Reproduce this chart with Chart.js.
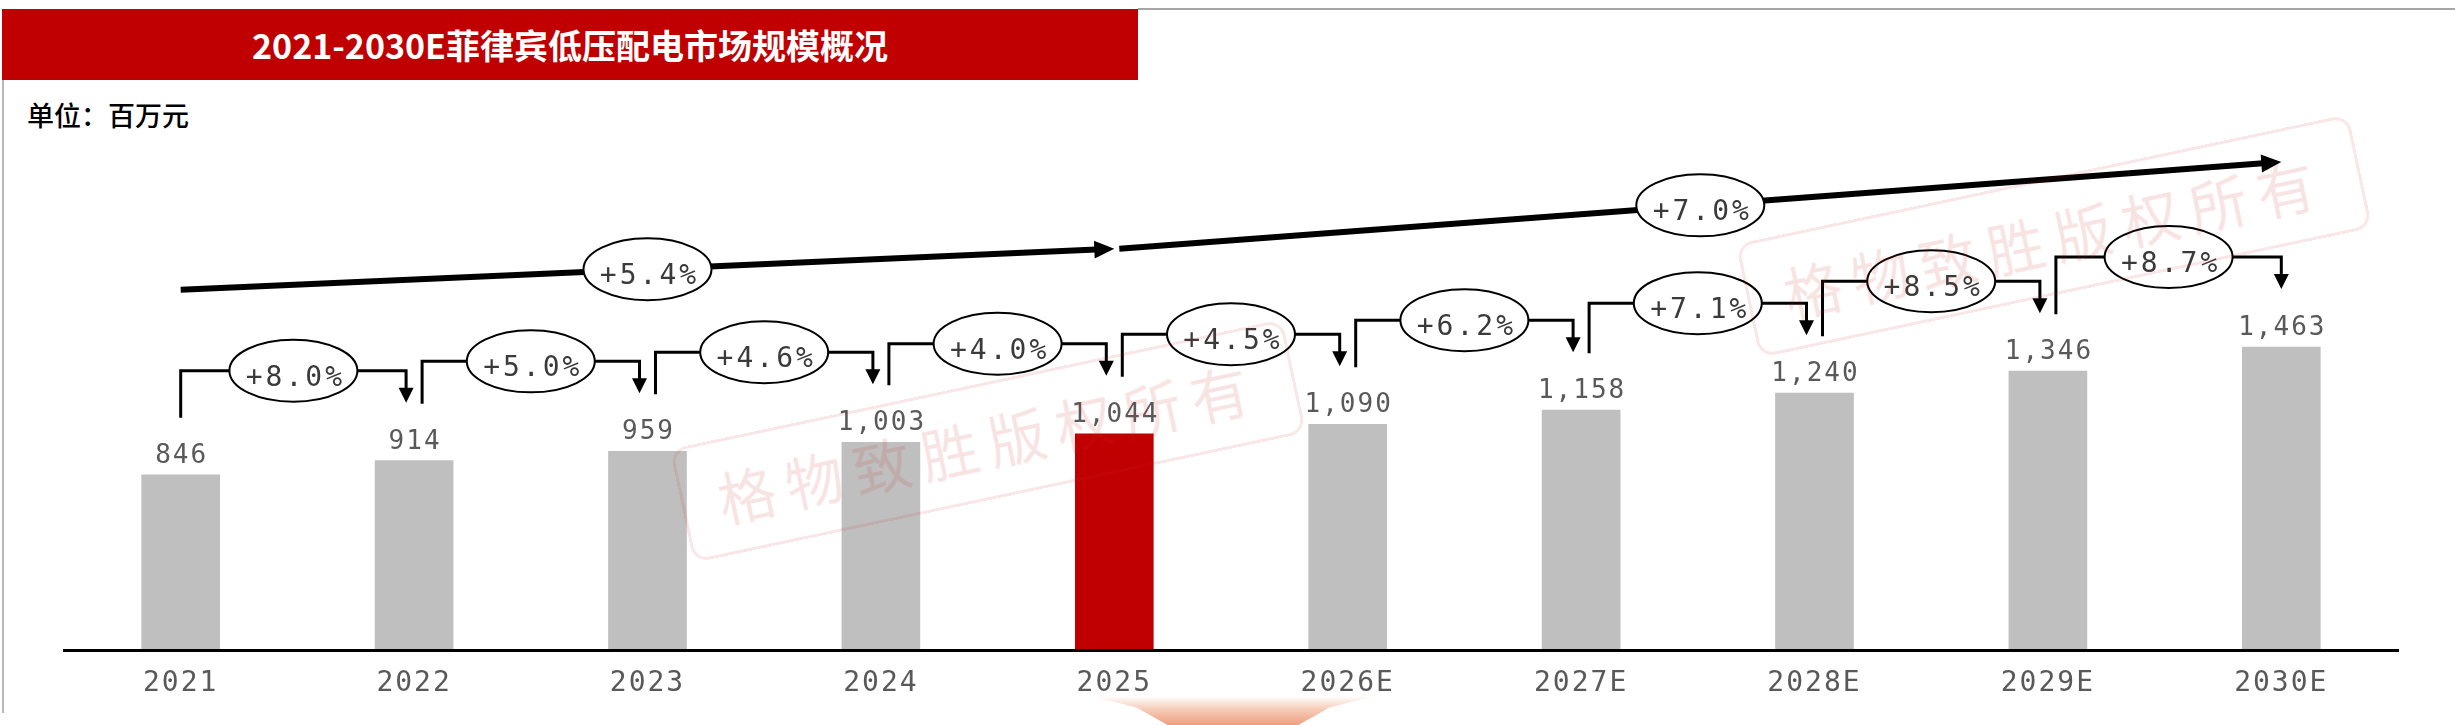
<!DOCTYPE html>
<html>
<head>
<meta charset="utf-8">
<script src="https://cdn.jsdelivr.net/npm/chart.js@4.4.1/dist/chart.umd.min.js"></script>
<style>
  html, body { margin: 0; padding: 0; background: #fff; }
  body { width: 2455px; height: 725px; position: relative; overflow: hidden; font-family: "Noto Sans CJK SC", sans-serif; }
  #banner { position: absolute; left: 2px; top: 9px; width: 1136px; height: 71px; background: #C00000; color: #fff;
            font-weight: bold; font-size: 34px; line-height: 71px; text-align: center; }
  #unit { position: absolute; left: 27px; top: 97px; font-size: 27px; line-height: 36px; color: #000; font-weight: 500; }
  .topline { position: absolute; left: 1138px; top: 8px; width: 1317px; height: 2px; background: #a6a6a6; }
  .leftline { position: absolute; left: 2px; top: 80px; width: 2px; height: 633px; background: #b8b8b8; }
  #wrap { position: absolute; left: 0; top: 0; width: 2455px; height: 725px; }
  .wm { position: absolute; width: 620px; height: 110px; border: 3px solid rgba(200, 40, 40, 0.11); border-radius: 16px;
        color: rgba(200, 40, 40, 0.13); font-size: 58px; line-height: 110px; text-align: center; letter-spacing: 11px;
        transform: rotate(-12deg); pointer-events: none; white-space: nowrap; }
  #deco { position: absolute; left: 1091px; top: 696px; width: 284px; height: 29px;
          background: linear-gradient(to bottom, #ffffff 0%, #f6cdb9 45%, #ee9f80 100%);
          clip-path: polygon(0 0, 100% 0, 84% 40%, 73% 100%, 27% 100%, 16% 40%); }
</style>
</head>
<body>
<div class="topline"></div>
<div class="leftline"></div>
<div id="banner">2021-2030E菲律宾低压配电市场规模概况</div>
<div id="unit">单位：百万元</div>
<div id="wrap"><canvas id="marketChart"></canvas></div>
<div class="wm" style="left:675px; top:383px;">格物致胜版权所有</div>
<div class="wm" style="left:1741px; top:178px;">格物致胜版权所有</div>
<div id="deco"></div>
<script>
// 单位：百万元
const categories = ['2021', '2022', '2023', '2024', '2025', '2026E', '2027E', '2028E', '2029E', '2030E'];
const marketSize = [846, 914, 959, 1003, 1044, 1090, 1158, 1240, 1346, 1463];
const yoyGrowth = ['+8.0%', '+5.0%', '+4.6%', '+4.0%', '+4.5%', '+6.2%', '+7.1%', '+8.5%', '+8.7%'];
const cagrLabels = ['+5.4%', '+7.0%'];
const cagrFrom = [0, 4];
const cagrTo = [4, 9];
const highlightIndex = 4;

const barColors = marketSize.map((v, i) => (i === highlightIndex ? '#C00000' : '#BFBFBF'));

function bubble(ctx, cx, cy, text) {
  ctx.save();
  ctx.beginPath();
  ctx.ellipse(cx, cy, 64, 31, 0, 0, Math.PI * 2);
  ctx.fillStyle = '#fff';
  ctx.fill();
  ctx.lineWidth = 2;
  ctx.strokeStyle = '#000';
  ctx.stroke();
  ctx.font = '28px "DejaVu Sans Mono"';
  ctx.letterSpacing = '3px';
  ctx.fillStyle = '#3a3a3a';
  ctx.textAlign = 'center';
  ctx.textBaseline = 'alphabetic';
  ctx.fillText(text, cx + 2, cy + 15);
  ctx.restore();
}

function arrowHead(ctx, x, y, angle, len, half) {
  ctx.save();
  ctx.translate(x, y);
  ctx.rotate(angle);
  ctx.beginPath();
  ctx.moveTo(0, 0);
  ctx.lineTo(-len, -half);
  ctx.lineTo(-len, half);
  ctx.closePath();
  ctx.fill();
  ctx.restore();
}

const annotations = {
  id: 'annotations',
  beforeDraw(chart) {
    chart.ctx.letterSpacing = '2px';
  },
  afterDatasetsDraw(chart) {
    const ctx = chart.ctx;
    const xs = chart.scales.x, ys = chart.scales.y;
    const px = i => xs.getPixelForValue(i);
    const py = i => ys.getPixelForValue(marketSize[i]);
    ctx.save();

    // 数值标签
    ctx.font = '26px "DejaVu Sans Mono"';
    ctx.letterSpacing = '2px';
    ctx.fillStyle = '#595959';
    ctx.textAlign = 'center';
    ctx.textBaseline = 'alphabetic';
    marketSize.forEach((v, i) => {
      ctx.fillText(v.toLocaleString('en-US'), px(i) + 1, py(i) - 12);
    });

    // 同比增长
    ctx.strokeStyle = '#000';
    ctx.fillStyle = '#000';
    ctx.lineWidth = 3;
    yoyGrowth.forEach((g, i) => {
      const x0 = px(i) + (i === 0 ? 0 : 8);
      const x1 = px(i + 1) - (i === yoyGrowth.length - 1 ? 0 : 8);
      const yStart = py(i) - 57;
      const yTip = py(i + 1) - 58;
      const yh = py(i + 1) - 90;
      ctx.beginPath();
      ctx.moveTo(x0, yStart);
      ctx.lineTo(x0, yh);
      ctx.lineTo(x1, yh);
      ctx.lineTo(x1, yTip - 12);
      ctx.stroke();
      arrowHead(ctx, x1, yTip, Math.PI / 2, 15, 7.5);
      bubble(ctx, (x0 + x1) / 2, yh, g);
    });

    // CAGR
    cagrLabels.forEach((lab, k) => {
      const a = cagrFrom[k], b = cagrTo[k];
      const xa = px(a) + (k === 0 ? 0 : 5), ya = py(a) - 185;
      const xb = px(b), yb = py(b) - 185;
      const ang = Math.atan2(yb - ya, xb - xa);
      ctx.lineWidth = 6;
      ctx.beginPath();
      ctx.moveTo(xa, ya);
      ctx.lineTo(xb - 18 * Math.cos(ang), yb - 18 * Math.sin(ang));
      ctx.stroke();
      arrowHead(ctx, xb, yb, ang, 20, 9);
      bubble(ctx, (xa + xb) / 2, (ya + yb) / 2, lab);
    });

    ctx.restore();
  }
};

const ctx = document.getElementById('marketChart').getContext('2d');
new Chart(ctx, {
  type: 'bar',
  data: {
    labels: categories,
    datasets: [{
      data: marketSize,
      backgroundColor: barColors,
      barThickness: 78
    }]
  },
  options: {
    responsive: true,
    maintainAspectRatio: false,
    devicePixelRatio: 1,
    animation: false,
    layout: { padding: { left: 64, right: 57, top: 28.6, bottom: 7.4 } },
    plugins: {
      legend: { display: false },
      tooltip: { enabled: false }
    },
    scales: {
      x: {
        grid: { display: false, drawTicks: false },
        border: { display: true, color: '#000', width: 3, z: 1 },
        ticks: { color: '#595959', font: { family: 'DejaVu Sans Mono', size: 28 }, padding: 17 }
      },
      y: { display: false, min: 0, max: 3000 }
    }
  },
  plugins: [annotations]
});
</script>
</body>
</html>
